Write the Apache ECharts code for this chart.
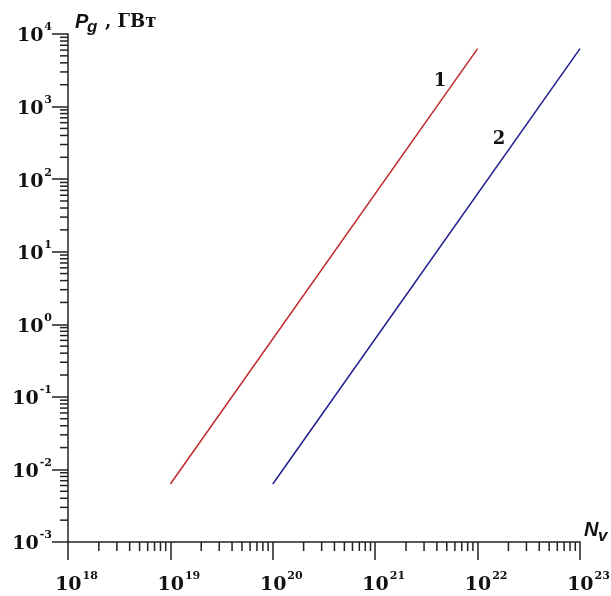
<!DOCTYPE html>
<html><head><meta charset="utf-8">
<script src="https://cdn.jsdelivr.net/npm/echarts@6/dist/echarts.min.js"></script>
<style>html,body{margin:0;padding:0;background:#fff}#c{width:611px;height:596px}</style>
</head><body><div id="c"></div>
<script>
// Data
var line1N = [1e19, 1e22];
var line1P = [0.0063, 6300];
var line2N = [1e20, 1e23];
var line2P = [0.0063, 6300];
var xDecades = [18, 19, 20, 21, 22, 23];
var yDecades = [-3, -2, -1, 0, 1, 2, 3, 4];
var minorMult = [2, 3, 4, 5, 6, 7, 8, 9];
var seriesNames = ['1', '2'];

var xMin = 1e18, xMax = 1e23, yMin = 1e-3, yMax = 1e4;

function minorVals(decs) {
  var out = [];
  for (var i = 0; i < decs.length - 1; i++) {
    for (var j = 0; j < minorMult.length; j++) out.push(minorMult[j] * Math.pow(10, decs[i]));
  }
  return out;
}
var xMinor = minorVals(xDecades).map(function (v) { return [v, yMin]; });
var yMinor = minorVals(yDecades).map(function (v) { return [xMin, v]; });

function powLabel(v) {
  var e = Math.round(Math.log10(v));
  return '{b|10}{s|' + (e < 0 ? '-' + (-e) : e) + '}';
}
var serif = '"DejaVu Serif", "Liberation Serif", serif';
var sans = '"Liberation Sans", Arial, sans-serif';
var yRich = {
  b: { fontFamily: serif, fontWeight: 'bold', fontSize: 19, color: '#111', lineHeight: 24, verticalAlign: 'bottom' },
  s: { fontFamily: serif, fontWeight: 'bold', fontSize: 11, color: '#111', verticalAlign: 'top', padding: [0, 0, 0, 1] }
};
var xRich = {
  b: { fontFamily: serif, fontWeight: 'bold', fontSize: 19, color: '#111', lineHeight: 24, verticalAlign: 'bottom', padding: [0, 0, 0, 17] },
  s: { fontFamily: serif, fontWeight: 'bold', fontSize: 11, color: '#111', verticalAlign: 'top', padding: [0, 0, 0, 1] }
};

var chart = echarts.init(document.getElementById('c'), null, { renderer: 'canvas' });
chart.setOption({
  animation: false,
  backgroundColor: '#fff',
  grid: { left: 68, right: 31, top: 34, bottom: 54, containLabel: false, outerBoundsMode: 'none' },
  xAxis: {
    type: 'log', logBase: 10, min: xMin, max: xMax,
    axisLine: { show: true, lineStyle: { color: '#222', width: 1.5 } },
    axisTick: { show: true, inside: false, length: 18, lineStyle: { color: '#222', width: 1.5 } },
    splitLine: { show: false },
    axisLabel: { margin: 29, formatter: powLabel, rich: xRich }
  },
  yAxis: {
    type: 'log', logBase: 10, min: yMin, max: yMax,
    axisLine: { show: true, lineStyle: { color: '#222', width: 1.5 } },
    axisTick: { show: true, inside: false, length: 16, lineStyle: { color: '#222', width: 1.5 } },
    splitLine: { show: false },
    axisLabel: { margin: 16, formatter: powLabel, rich: yRich }
  },
  graphic: [
    { type: 'text', left: 75, top: 12, style: { text: 'P', font: 'italic bold 20px ' + sans, fill: '#111' } },
    { type: 'text', left: 87, top: 19, style: { text: 'g', font: 'italic bold 17px ' + sans, fill: '#111' } },
    { type: 'text', left: 105, top: 13, style: { text: ', ГВт', font: 'bold 18px ' + serif, fill: '#111' } },
    { type: 'text', left: 584, top: 520, style: { text: 'N', font: 'italic bold 20px ' + sans, fill: '#111' } },
    { type: 'text', left: 598, top: 528, style: { text: 'v', font: 'italic bold 17px ' + sans, fill: '#111' } }
  ],
  series: [
    { name: seriesNames[0], type: 'line', showSymbol: false, symbol: 'none',
      data: line1N.map(function (n, i) { return [n, line1P[i]]; }),
      lineStyle: { color: '#c0282a', width: 1.5 },
      markPoint: { symbol: 'circle', symbolSize: 0, silent: true,
        label: { show: true, position: 'inside', formatter: seriesNames[0], fontFamily: serif, fontWeight: 'bold', fontSize: 18, color: '#111' },
        data: [{ coord: [4.3e21, 2250] }] } },
    { name: seriesNames[1], type: 'line', showSymbol: false, symbol: 'none',
      data: line2N.map(function (n, i) { return [n, line2P[i]]; }),
      lineStyle: { color: '#1c1c8c', width: 1.5 },
      markPoint: { symbol: 'circle', symbolSize: 0, silent: true,
        label: { show: true, position: 'inside', formatter: seriesNames[1], fontFamily: serif, fontWeight: 'bold', fontSize: 18, color: '#111' },
        data: [{ coord: [1.62e22, 358] }] } },
    { type: 'custom', silent: true, clip: false, data: xMinor,
      renderItem: function (params, api) {
        var p = api.coord([api.value(0), api.value(1)]);
        return { type: 'line', shape: { x1: p[0], y1: p[1], x2: p[0], y2: p[1] + 9 }, style: { stroke: '#222', lineWidth: 1.5 } };
      } },
    { type: 'custom', silent: true, clip: false, data: yMinor,
      renderItem: function (params, api) {
        var p = api.coord([api.value(0), api.value(1)]);
        return { type: 'line', shape: { x1: p[0] - 8, y1: p[1], x2: p[0], y2: p[1] }, style: { stroke: '#222', lineWidth: 1.5 } };
      } }
  ]
});
</script></body></html>
